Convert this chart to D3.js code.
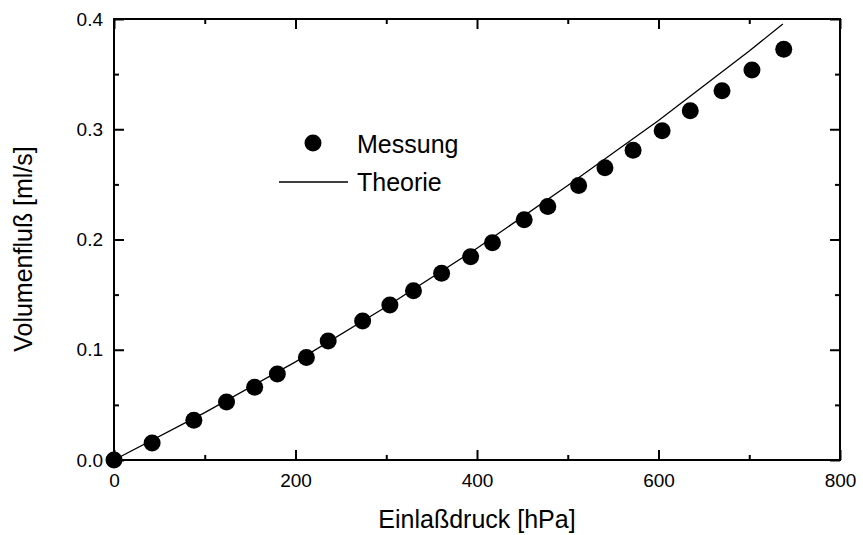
<!DOCTYPE html>
<html>
<head>
<meta charset="utf-8">
<script src="https://cdn.jsdelivr.net/npm/d3@7"></script>
<style>
  body { margin: 0; background: #fff; }
  text { font-family: "Liberation Sans", Arial, sans-serif; fill: #000; }
</style>
</head>
<body>
<script>
var w = 863;
var h = 535;

// measured points (pressure hPa, flow ml/s)
var messP = [0, 42, 88, 124, 155, 180, 212, 236, 274, 304, 330, 361, 393, 417, 452, 478, 512, 541, 572, 604, 635, 670, 703, 738];
var messQ = [0, 0.0154, 0.036, 0.0526, 0.066, 0.078, 0.093, 0.108, 0.126, 0.1406, 0.1536, 0.1693, 0.1844, 0.197, 0.218, 0.230, 0.249, 0.265, 0.281, 0.2987, 0.3168, 0.335, 0.3537, 0.3725];

// theory curve
var theoP = [0, 100, 200, 300, 400, 500, 600, 700, 737];
var theoQ = [0, 0.043, 0.089, 0.139, 0.192, 0.249, 0.308, 0.371, 0.3955];

var xTicks = [0, 200, 400, 600, 800];
var xMinor = [100, 300, 500, 700];
var yTicks = [0, 0.1, 0.2, 0.3, 0.4];
var yMinor = [0.05, 0.15, 0.25, 0.35];

var plotL = 114, plotR = 840, plotT = 19, plotB = 460;

var x = d3.scaleLinear().domain([0, 800]).range([plotL, plotR]);
var y = d3.scaleLinear().domain([0, 0.4]).range([plotB, plotT]);

var svg = d3.select("body").append("svg")
    .attr("width", w)
    .attr("height", h);

//----data-----
var line = d3.line()
    .x(function (d, i) { return x(theoP[i]); })
    .y(function (d, i) { return y(theoQ[i]); });

svg.append("path")
    .attr("d", line(theoP))
    .attr("fill", "none")
    .attr("stroke", "#000")
    .attr("stroke-width", 1.3);

svg.selectAll("circle.mess")
    .data(messP)
    .enter().append("circle")
    .attr("class", "mess")
    .attr("cx", function (d) { return x(d); })
    .attr("cy", function (d, i) { return y(messQ[i]); })
    .attr("r", 8.5)
    .attr("fill", "#000");

//----axes (ticks inward on all four sides)-----
function frame(axis, tf, values, size) {
    var g = svg.append("g")
        .attr("transform", tf)
        .call(axis.tickValues(values).tickSize(size).tickFormat(""));
    g.select(".domain").remove();
    g.selectAll("line").attr("stroke", "#000").attr("stroke-width", 2);
    return g;
}
frame(d3.axisTop(x), "translate(0," + plotB + ")", xTicks, 10);
frame(d3.axisTop(x), "translate(0," + plotB + ")", xMinor, 5);
frame(d3.axisBottom(x), "translate(0," + plotT + ")", xTicks, 10);
frame(d3.axisBottom(x), "translate(0," + plotT + ")", xMinor, 5);
frame(d3.axisRight(y), "translate(" + plotL + ",0)", yTicks, 10);
frame(d3.axisRight(y), "translate(" + plotL + ",0)", yMinor, 5);
frame(d3.axisLeft(y), "translate(" + plotR + ",0)", yTicks, 10);
frame(d3.axisLeft(y), "translate(" + plotR + ",0)", yMinor, 5);

svg.append("rect")
    .attr("x", plotL)
    .attr("y", plotT)
    .attr("width", plotR - plotL)
    .attr("height", plotB - plotT)
    .attr("fill", "none")
    .attr("stroke", "#000")
    .attr("stroke-width", 2);

// tick labels
var xl = svg.append("g")
    .attr("transform", "translate(0," + plotB + ")")
    .call(d3.axisBottom(x).tickValues(xTicks).tickSize(0).tickPadding(14).tickFormat(d3.format("d")));
xl.select(".domain").remove();
xl.attr("font-size", null).attr("font-family", null);
xl.selectAll("text").attr("font-size", 19);

var yl = svg.append("g")
    .attr("transform", "translate(" + plotL + ",0)")
    .call(d3.axisLeft(y).tickValues(yTicks).tickSize(0).tickPadding(11).tickFormat(d3.format(".1f")));
yl.select(".domain").remove();
yl.attr("font-size", null).attr("font-family", null);
yl.selectAll("text").attr("font-size", 19);

//----titles-----
svg.append("text")
    .text("Einlaßdruck [hPa]")
    .attr("x", (plotL + plotR) / 2)
    .attr("y", 528)
    .attr("text-anchor", "middle")
    .attr("font-size", 25);

svg.append("text")
    .text("Volumenfluß [ml/s]")
    .attr("transform", "translate(32,249) rotate(-90)")
    .attr("text-anchor", "middle")
    .attr("font-size", 25);

//----legend-----
svg.append("circle")
    .attr("cx", 313)
    .attr("cy", 143)
    .attr("r", 8.5)
    .attr("fill", "#000");

svg.append("text")
    .text("Messung")
    .attr("x", 357)
    .attr("y", 153)
    .attr("font-size", 25);

svg.append("line")
    .attr("x1", 279)
    .attr("x2", 348)
    .attr("y1", 182)
    .attr("y2", 182)
    .attr("stroke", "#000")
    .attr("stroke-width", 1.3);

svg.append("text")
    .text("Theorie")
    .attr("x", 357)
    .attr("y", 191)
    .attr("font-size", 25);
</script>
</body>
</html>
